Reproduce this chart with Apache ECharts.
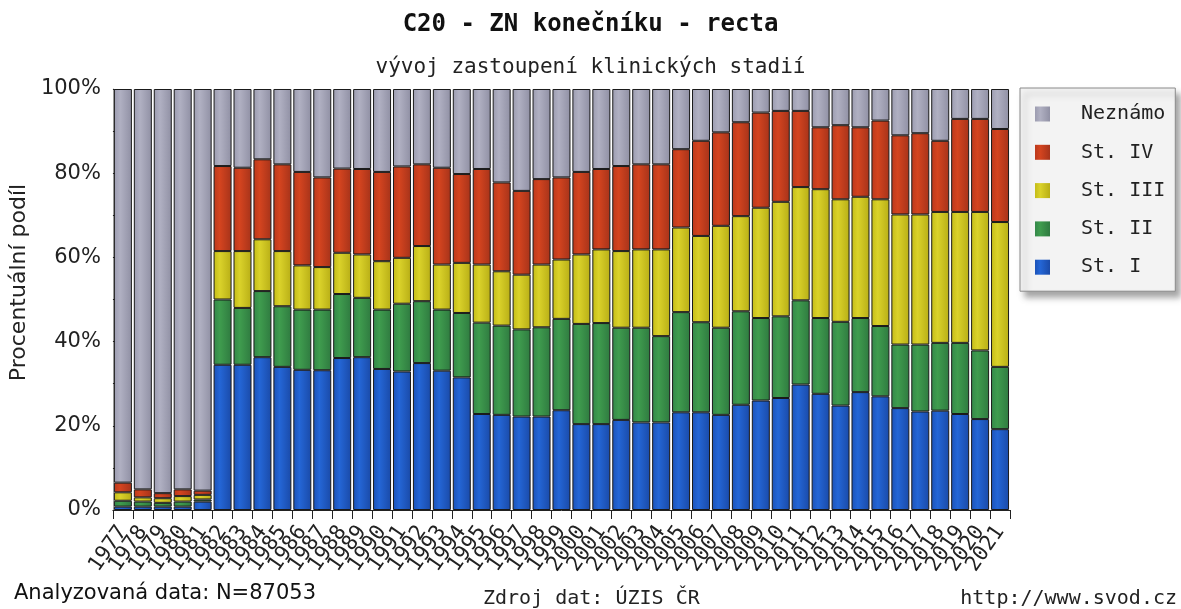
<!DOCTYPE html>
<html>
<head>
<meta charset="utf-8">
<script src="https://cdn.jsdelivr.net/npm/echarts@6/dist/echarts.min.js"></script>
<style>
html, body { margin: 0; padding: 0; background: #fff; }
#chart { width: 1181px; height: 609px; }
</style>
</head>
<body>
<div id="chart"></div>
<script>
// roky
var years = ['1977','1978','1979','1980','1981','1982','1983','1984','1985','1986',
  '1987','1988','1989','1990','1991','1992','1993','1994','1995','1996',
  '1997','1998','1999','2000','2001','2002','2003','2004','2005','2006',
  '2007','2008','2009','2010','2011','2012','2013','2014','2015','2016',
  '2017','2018','2019','2020','2021'];

// podil jednotlivych stadii v %
var stI = [0.8,0.8,0.8,0.8,2.0,34.5,34.5,36.3,34.0,33.3,
  33.2,36.1,36.3,33.5,32.9,34.9,33.1,31.5,22.8,22.6,
  22.2,22.2,23.7,20.4,20.4,21.4,20.8,20.8,23.2,23.2,
  22.6,25.0,26.0,26.6,29.8,27.6,24.8,28.0,27.0,24.2,
  23.4,23.6,22.8,21.6,19.2];
var stII = [1.4,1.2,0.9,1.2,0.5,15.5,13.5,15.7,14.4,14.3,
  14.4,15.2,14.1,14.1,16.1,14.7,14.5,15.3,21.7,21.2,
  20.7,21.2,21.7,23.8,24.0,21.9,22.5,20.5,23.8,21.4,
  20.7,22.2,19.6,19.4,20.0,18.0,19.9,17.6,16.7,15.1,
  15.9,16.1,16.9,16.3,14.8];
var stIII = [2.0,1.0,1.1,1.3,1.1,11.5,13.5,12.3,13.1,10.5,
  10.1,9.8,10.3,11.5,10.9,13.1,10.7,11.9,13.8,12.9,
  13.0,14.9,14.1,16.5,17.5,18.2,18.6,20.6,20.1,20.5,
  24.2,22.6,26.2,27.2,26.9,30.6,29.1,28.8,30.1,30.9,
  30.9,31.1,31.1,32.9,34.4];
var stIV = [2.3,1.9,1.2,1.6,1.0,20.2,19.8,19.0,20.6,22.2,
  21.3,20.0,20.3,21.2,21.7,19.4,23.0,21.1,22.7,21.1,
  19.9,20.3,19.5,19.6,19.1,20.2,20.2,20.2,18.6,22.6,
  22.2,22.3,22.6,21.6,18.1,14.7,17.6,16.5,18.7,18.8,
  19.3,16.9,22.1,22.1,22.1];
var nezname = [93.5,95.1,96.0,95.1,95.4,18.3,18.7,16.7,17.9,19.7,
  21.0,18.9,19.0,19.7,18.4,17.9,18.7,20.2,19.0,22.2,
  24.2,21.4,21.0,19.7,19.0,18.3,17.9,17.9,14.3,12.3,
  10.3,7.9,5.6,5.2,5.2,9.1,8.6,9.1,7.5,11.0,
  10.5,12.3,7.1,7.1,9.5];

var mono = 'DejaVu Sans Mono';
var sans = 'DejaVu Sans';

function grad(dark, light, dark2) {
  return new echarts.graphic.LinearGradient(0, 0, 1, 0, [
    { offset: 0, color: dark },
    { offset: 0.35, color: light },
    { offset: 1, color: dark2 }
  ]);
}

var colors = {
  'St. I': grad('#1b52b8', '#2466d6', '#1a4aa8'),
  'St. II': grad('#34884a', '#3f9c4e', '#2f7a40'),
  'St. III': grad('#c4bc18', '#dad22a', '#b8ae16'),
  'St. IV': grad('#bb391c', '#d4441f', '#a6331a'),
  'Neznámo': grad('#9c9cb0', '#b0b0c2', '#9090a4')
};

function makeSeries(name, data) {
  return {
    name: name,
    type: 'bar',
    stack: 'all',
    barWidth: 18,
    data: data,
    itemStyle: {
      color: colors[name],
      borderColor: '#1a1a1a',
      borderWidth: 1
    }
  };
}

var myChart = echarts.init(document.getElementById('chart'));
var option = {
  backgroundColor: '#ffffff',
  animation: false,
  title: [
    {
      text: 'C20 - ZN konečníku - recta',
      left: 'center',
      top: 8,
      textStyle: { fontFamily: mono, fontWeight: 'bold', fontSize: 24, color: '#111' }
    },
    {
      text: 'vývoj zastoupení klinických stadií',
      left: 'center',
      top: 52,
      textStyle: { fontFamily: mono, fontWeight: 'normal', fontSize: 21, color: '#222' }
    }
  ],
  grid: { left: 110, right: 171, top: 89, bottom: 99, containLabel: false },
  legend: {
    orient: 'vertical',
    left: 1020,
    top: 88,
    data: ['Neznámo', 'St. IV', 'St. III', 'St. II', 'St. I'],
    icon: 'rect',
    itemWidth: 15,
    itemHeight: 15,
    itemGap: 18.3,
    padding: [16, 10, 14, 15],
    itemStyle: { borderWidth: 0 },
    backgroundColor: '#f3f3f3',
    borderColor: '#8a8a8a',
    borderWidth: 1,
    shadowColor: 'rgba(0,0,0,0.35)',
    shadowBlur: 6,
    shadowOffsetX: 5,
    shadowOffsetY: 6,
    textStyle: { fontFamily: mono, fontSize: 20, color: '#222', padding: [0, 0, 0, 26] }
  },
  xAxis: {
    type: 'category',
    data: years,
    axisLine: { show: true, lineStyle: { color: '#222', width: 1 } },
    axisTick: { show: true, alignWithLabel: false, length: 9, lineStyle: { color: '#222' } },
    axisLabel: {
      interval: 0,
      rotate: 55,
      margin: 18,
      fontFamily: mono,
      fontSize: 21,
      color: '#222'
    }
  },
  yAxis: {
    type: 'value',
    min: 0,
    max: 100,
    interval: 10,
    name: 'Procentuální podíl',
    nameLocation: 'middle',
    nameGap: 79,
    nameTextStyle: { fontFamily: sans, fontSize: 22, color: '#222', padding: [0, 0, 0, 34] },
    axisLine: { show: true, lineStyle: { color: '#aaaaaa' } },
    axisTick: { show: true, inside: true, length: 7, lineStyle: { color: '#222' } },
    splitLine: { show: false },
    axisLabel: {
      margin: 12,
      fontFamily: sans,
      fontSize: 21,
      color: '#222',
      formatter: function (v) { return v % 20 === 0 ? v + '%' : ''; }
    }
  },
  graphic: [
    {
      type: 'text', left: 14, top: 583,
      style: { text: 'Analyzovaná data: N=87053', font: '21px "DejaVu Sans"', fill: '#111' }
    },
    {
      type: 'text', left: 483, top: 589,
      style: { text: 'Zdroj dat: ÚZIS ČR', font: '20px "DejaVu Sans Mono"', fill: '#222' }
    },
    {
      type: 'text', right: 4, top: 589,
      style: { text: 'http://www.svod.cz', font: '20px "DejaVu Sans Mono"', fill: '#222' }
    }
  ],
  series: [
    makeSeries('St. I', stI),
    makeSeries('St. II', stII),
    makeSeries('St. III', stIII),
    makeSeries('St. IV', stIV),
    makeSeries('Neznámo', nezname)
  ]
};
myChart.setOption(option);
</script>
</body>
</html>
